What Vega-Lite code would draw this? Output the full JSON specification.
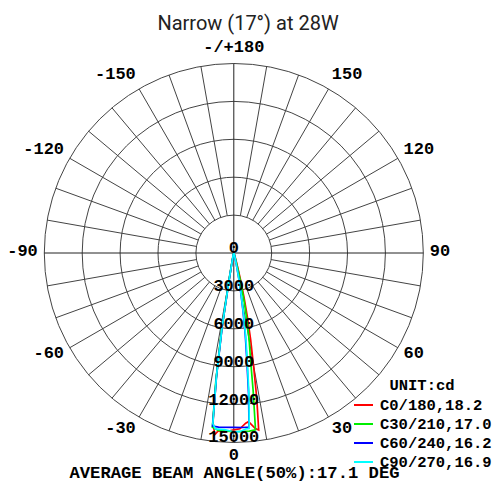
{
  "$schema": "https://vega.github.io/schema/vega-lite/v6.json",
  "width": 496,
  "height": 416,
  "autosize": {"type": "none"},
  "padding": {"top": 36, "bottom": 30, "left": 0, "right": 0},
  "background": "white",
  "config": {"view": {"stroke": null}},
  "title": {"text": "Narrow (17°) at 28W", "font": "Roboto", "fontSize": 20, "fontWeight": "normal", "color": "#222", "anchor": "middle", "frame": "group", "baseline": "alphabetic", "offset": -14},
  "datasets": {
    "rings": [{"v": 3000}, {"v": 6000}, {"v": 9000}, {"v": 12000}, {"v": 15000}],
    "ringLabels": [{"v": 0, "t": "0"}, {"v": 3000, "t": "3000"}, {"v": 6000, "t": "6000"}, {"v": 9000, "t": "9000"}, {"v": 12000, "t": "12000"}, {"v": 15000, "t": "15000"}],
    "spokes": [{"a": -170}, {"a": -160}, {"a": -150}, {"a": -140}, {"a": -130}, {"a": -120}, {"a": -110}, {"a": -100}, {"a": -80}, {"a": -70}, {"a": -60}, {"a": -50}, {"a": -40}, {"a": -30}, {"a": -20}, {"a": -10}, {"a": 10}, {"a": 20}, {"a": 30}, {"a": 40}, {"a": 50}, {"a": 60}, {"a": 70}, {"a": 80}, {"a": 100}, {"a": 110}, {"a": 120}, {"a": 130}, {"a": 140}, {"a": 150}, {"a": 160}, {"a": 170}],
    "diameters": [{"a": 0}, {"a": 90}],
    "angleLabels": [{"a": 0, "t": "0"}, {"a": 30, "t": "30"}, {"a": 60, "t": "60"}, {"a": 90, "t": "90"}, {"a": 120, "t": "120"}, {"a": 150, "t": "150"}, {"a": 180, "t": "-/+180"}, {"a": -30, "t": "-30"}, {"a": -60, "t": "-60"}, {"a": -90, "t": "-90"}, {"a": -120, "t": "-120"}, {"a": -150, "t": "-150"}],
    "curves": [
      {"s": "C0/180,18.2", "g": -90, "cd": 0}, {"s": "C0/180,18.2", "g": -30, "cd": 40}, {"s": "C0/180,18.2", "g": -20, "cd": 100}, {"s": "C0/180,18.2", "g": -15, "cd": 200}, {"s": "C0/180,18.2", "g": -12, "cd": 400}, {"s": "C0/180,18.2", "g": -11, "cd": 800}, {"s": "C0/180,18.2", "g": -10, "cd": 2000}, {"s": "C0/180,18.2", "g": -9, "cd": 6000}, {"s": "C0/180,18.2", "g": -8, "cd": 10000}, {"s": "C0/180,18.2", "g": -7, "cd": 13500}, {"s": "C0/180,18.2", "g": -6, "cd": 14450}, {"s": "C0/180,18.2", "g": -5, "cd": 14140}, {"s": "C0/180,18.2", "g": -3, "cd": 14190}, {"s": "C0/180,18.2", "g": 0, "cd": 14000}, {"s": "C0/180,18.2", "g": 2, "cd": 13920}, {"s": "C0/180,18.2", "g": 4, "cd": 13500}, {"s": "C0/180,18.2", "g": 5, "cd": 13400}, {"s": "C0/180,18.2", "g": 7, "cd": 14000}, {"s": "C0/180,18.2", "g": 8, "cd": 14150}, {"s": "C0/180,18.2", "g": 9, "cd": 11600}, {"s": "C0/180,18.2", "g": 10, "cd": 8900}, {"s": "C0/180,18.2", "g": 11, "cd": 7000}, {"s": "C0/180,18.2", "g": 12, "cd": 5200}, {"s": "C0/180,18.2", "g": 13, "cd": 3600}, {"s": "C0/180,18.2", "g": 14, "cd": 2300}, {"s": "C0/180,18.2", "g": 15, "cd": 1300}, {"s": "C0/180,18.2", "g": 17, "cd": 500}, {"s": "C0/180,18.2", "g": 20, "cd": 200}, {"s": "C0/180,18.2", "g": 30, "cd": 50}, {"s": "C0/180,18.2", "g": 90, "cd": 0},
      {"s": "C30/210,17.0", "g": -90, "cd": 0}, {"s": "C30/210,17.0", "g": -30, "cd": 40}, {"s": "C30/210,17.0", "g": -20, "cd": 100}, {"s": "C30/210,17.0", "g": -15, "cd": 250}, {"s": "C30/210,17.0", "g": -12, "cd": 500}, {"s": "C30/210,17.0", "g": -11, "cd": 1000}, {"s": "C30/210,17.0", "g": -10, "cd": 2400}, {"s": "C30/210,17.0", "g": -9, "cd": 6300}, {"s": "C30/210,17.0", "g": -8, "cd": 10200}, {"s": "C30/210,17.0", "g": -7, "cd": 13900}, {"s": "C30/210,17.0", "g": -5, "cd": 14100}, {"s": "C30/210,17.0", "g": 0, "cd": 14150}, {"s": "C30/210,17.0", "g": 5, "cd": 14150}, {"s": "C30/210,17.0", "g": 7, "cd": 14100}, {"s": "C30/210,17.0", "g": 8, "cd": 11000}, {"s": "C30/210,17.0", "g": 9, "cd": 8400}, {"s": "C30/210,17.0", "g": 10, "cd": 7000}, {"s": "C30/210,17.0", "g": 11, "cd": 5600}, {"s": "C30/210,17.0", "g": 12, "cd": 4000}, {"s": "C30/210,17.0", "g": 13, "cd": 2600}, {"s": "C30/210,17.0", "g": 14, "cd": 1500}, {"s": "C30/210,17.0", "g": 15, "cd": 700}, {"s": "C30/210,17.0", "g": 17, "cd": 300}, {"s": "C30/210,17.0", "g": 20, "cd": 120}, {"s": "C30/210,17.0", "g": 30, "cd": 40}, {"s": "C30/210,17.0", "g": 90, "cd": 0},
      {"s": "C60/240,16.2", "g": -90, "cd": 0}, {"s": "C60/240,16.2", "g": -30, "cd": 30}, {"s": "C60/240,16.2", "g": -20, "cd": 60}, {"s": "C60/240,16.2", "g": -15, "cd": 200}, {"s": "C60/240,16.2", "g": -12, "cd": 300}, {"s": "C60/240,16.2", "g": -11, "cd": 600}, {"s": "C60/240,16.2", "g": -10, "cd": 1800}, {"s": "C60/240,16.2", "g": -9, "cd": 5800}, {"s": "C60/240,16.2", "g": -8, "cd": 9800}, {"s": "C60/240,16.2", "g": -7, "cd": 13800}, {"s": "C60/240,16.2", "g": -5, "cd": 13830}, {"s": "C60/240,16.2", "g": 0, "cd": 13800}, {"s": "C60/240,16.2", "g": 3, "cd": 13830}, {"s": "C60/240,16.2", "g": 5, "cd": 13830}, {"s": "C60/240,16.2", "g": 6, "cd": 11200}, {"s": "C60/240,16.2", "g": 7, "cd": 8400}, {"s": "C60/240,16.2", "g": 8, "cd": 6500}, {"s": "C60/240,16.2", "g": 9, "cd": 4700}, {"s": "C60/240,16.2", "g": 10, "cd": 3200}, {"s": "C60/240,16.2", "g": 11, "cd": 2200}, {"s": "C60/240,16.2", "g": 12, "cd": 1200}, {"s": "C60/240,16.2", "g": 13, "cd": 600}, {"s": "C60/240,16.2", "g": 15, "cd": 300}, {"s": "C60/240,16.2", "g": 20, "cd": 100}, {"s": "C60/240,16.2", "g": 30, "cd": 40}, {"s": "C60/240,16.2", "g": 90, "cd": 0},
      {"s": "C90/270,16.9", "g": -90, "cd": 0}, {"s": "C90/270,16.9", "g": -30, "cd": 30}, {"s": "C90/270,16.9", "g": -20, "cd": 60}, {"s": "C90/270,16.9", "g": -15, "cd": 200}, {"s": "C90/270,16.9", "g": -12, "cd": 350}, {"s": "C90/270,16.9", "g": -11, "cd": 700}, {"s": "C90/270,16.9", "g": -10, "cd": 1900}, {"s": "C90/270,16.9", "g": -9, "cd": 5900}, {"s": "C90/270,16.9", "g": -8, "cd": 9900}, {"s": "C90/270,16.9", "g": -7, "cd": 13600}, {"s": "C90/270,16.9", "g": -6, "cd": 14000}, {"s": "C90/270,16.9", "g": -3, "cd": 14000}, {"s": "C90/270,16.9", "g": 0, "cd": 14150}, {"s": "C90/270,16.9", "g": 2, "cd": 14150}, {"s": "C90/270,16.9", "g": 4, "cd": 13950}, {"s": "C90/270,16.9", "g": 5, "cd": 13950}, {"s": "C90/270,16.9", "g": 6, "cd": 11600}, {"s": "C90/270,16.9", "g": 7, "cd": 8900}, {"s": "C90/270,16.9", "g": 8, "cd": 6900}, {"s": "C90/270,16.9", "g": 9, "cd": 5000}, {"s": "C90/270,16.9", "g": 10, "cd": 3400}, {"s": "C90/270,16.9", "g": 11, "cd": 2300}, {"s": "C90/270,16.9", "g": 12, "cd": 1300}, {"s": "C90/270,16.9", "g": 13, "cd": 650}, {"s": "C90/270,16.9", "g": 15, "cd": 300}, {"s": "C90/270,16.9", "g": 20, "cd": 100}, {"s": "C90/270,16.9", "g": 30, "cd": 40}, {"s": "C90/270,16.9", "g": 90, "cd": 0}
    ]
  },
  "encoding": {
    "x": {"field": "X", "type": "quantitative", "scale": {"domain": [-18507, 20755], "nice": false, "zero": false},
      "axis": {"title": "AVERAGE BEAM ANGLE(50%):17.1 DEG", "titleFont": "Liberation Mono", "titleFontWeight": "bold", "titleFontSize": 17.2, "titleColor": "#000", "labels": false, "ticks": false, "domain": false, "grid": false, "titlePadding": 25, "titleBaseline": "alphabetic", "titleX": 234}},
    "y": {"field": "Y", "type": "quantitative", "scale": {"domain": [-15752, 17177], "nice": false, "zero": false}, "axis": null}
  },
  "layer": [
    {
      "data": {"name": "rings"},
      "transform": [{"calculate": "0", "as": "X"}, {"calculate": "0", "as": "Y"}],
      "mark": {"type": "point", "shape": "circle", "filled": false, "color": "#444", "strokeWidth": 1, "opacity": 1},
      "encoding": {"size": {"field": "v", "type": "quantitative", "scale": {"type": "pow", "exponent": 2, "domain": [0, 15000], "range": [0, 143641]}, "legend": null}}
    },
    {
      "data": {"name": "spokes"},
      "transform": [
        {"calculate": "3000*sin(datum.a*PI/180)", "as": "X"},
        {"calculate": "-3000*cos(datum.a*PI/180)", "as": "Y"},
        {"calculate": "15000*sin(datum.a*PI/180)", "as": "X2"},
        {"calculate": "-15000*cos(datum.a*PI/180)", "as": "Y2"}
      ],
      "mark": {"type": "rule", "color": "#444", "strokeWidth": 1},
      "encoding": {"x2": {"field": "X2"}, "y2": {"field": "Y2"}}
    },
    {
      "data": {"name": "diameters"},
      "transform": [
        {"calculate": "-15000*sin(datum.a*PI/180)", "as": "X"},
        {"calculate": "15000*cos(datum.a*PI/180)", "as": "Y"},
        {"calculate": "15000*sin(datum.a*PI/180)", "as": "X2"},
        {"calculate": "-15000*cos(datum.a*PI/180)", "as": "Y2"}
      ],
      "mark": {"type": "rule", "color": "#222", "strokeWidth": 1},
      "encoding": {"x2": {"field": "X2"}, "y2": {"field": "Y2"}}
    },
    {
      "data": {"name": "angleLabels"},
      "transform": [
        {"filter": "datum.a > 0 && datum.a < 180"},
        {"calculate": "15515*sin(datum.a*PI/180)", "as": "X"},
        {"calculate": "-16150*cos(datum.a*PI/180)", "as": "Y"}
      ],
      "mark": {"type": "text", "align": "left", "baseline": "middle", "dy": -2, "font": "Liberation Mono", "fontWeight": "bold", "fontSize": 17, "color": "#000"},
      "encoding": {"text": {"field": "t"}}
    },
    {
      "data": {"name": "angleLabels"},
      "transform": [
        {"filter": "datum.a < 0 && datum.a > -180"},
        {"calculate": "15515*sin(datum.a*PI/180)", "as": "X"},
        {"calculate": "-16150*cos(datum.a*PI/180)", "as": "Y"}
      ],
      "mark": {"type": "text", "align": "right", "baseline": "middle", "dy": -2, "font": "Liberation Mono", "fontWeight": "bold", "fontSize": 17, "color": "#000"},
      "encoding": {"text": {"field": "t"}}
    },
    {
      "data": {"name": "angleLabels"},
      "transform": [
        {"filter": "datum.a == 0 || datum.a == 180"},
        {"calculate": "0", "as": "X"},
        {"calculate": "-16150*cos(datum.a*PI/180)", "as": "Y"}
      ],
      "mark": {"type": "text", "align": "center", "baseline": "middle", "dy": -2, "font": "Liberation Mono", "fontWeight": "bold", "fontSize": 17, "color": "#000"},
      "encoding": {"text": {"field": "t"}}
    },
    {
      "data": {"name": "curves"},
      "transform": [
        {"calculate": "datum.cd*sin(datum.g*PI/180)", "as": "X"},
        {"calculate": "-datum.cd*cos(datum.g*PI/180)", "as": "Y"}
      ],
      "mark": {"type": "line", "strokeWidth": 1.7},
      "encoding": {
        "order": {"field": "g", "type": "quantitative"},
        "color": {"field": "s", "type": "nominal",
          "scale": {"domain": ["C0/180,18.2", "C30/210,17.0", "C60/240,16.2", "C90/270,16.9"], "range": ["#ff0000", "#00ee00", "#0000ff", "#00ffff"]},
          "legend": {"orient": "none", "legendX": 353, "legendY": 342, "title": "UNIT:cd", "titleFont": "Liberation Mono", "titleFontSize": 15.5, "titleFontWeight": "bold", "titleColor": "#000", "titleAnchor": "middle", "titlePadding": 1, "labelFont": "Liberation Mono", "labelFontSize": 15.5, "labelFontWeight": "bold", "labelColor": "#000", "labelOffset": 6, "labelLimit": 300, "symbolType": "stroke", "symbolSize": 361, "symbolStrokeWidth": 2, "rowPadding": 0, "padding": 0}
        }
      }
    },
    {
      "data": {"name": "ringLabels"},
      "transform": [{"calculate": "0", "as": "X"}, {"calculate": "-datum.v", "as": "Y"}],
      "mark": {"type": "text", "align": "center", "baseline": "alphabetic", "font": "Liberation Mono", "fontWeight": "bold", "fontSize": 17, "color": "#000"},
      "encoding": {"text": {"field": "t"}}
    }
  ]
}
